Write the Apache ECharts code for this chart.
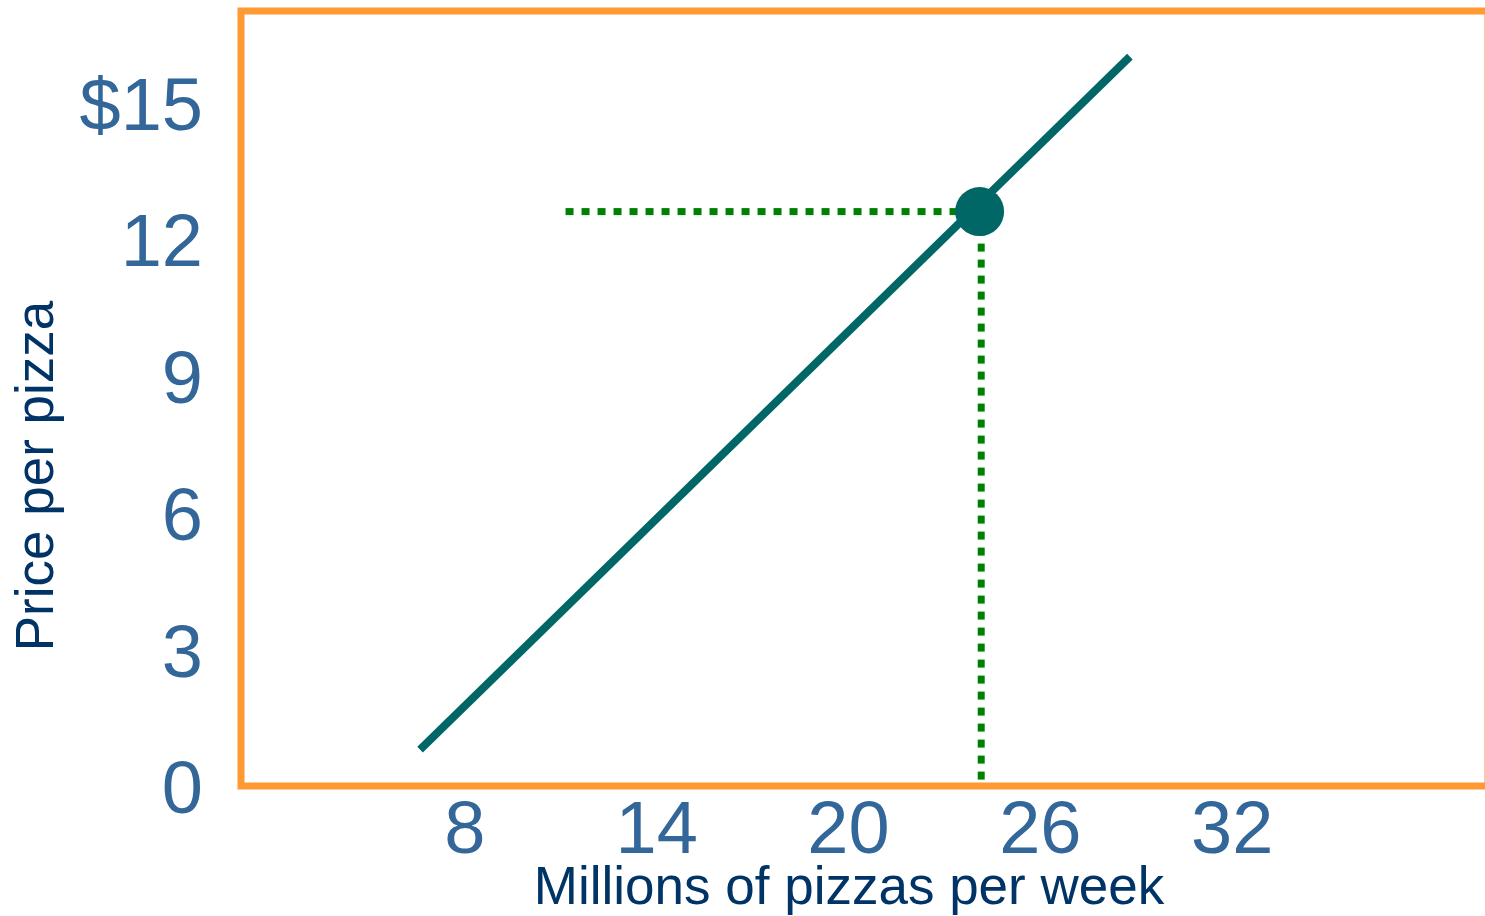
<!DOCTYPE html>
<html>
<head>
<meta charset="utf-8">
<script src="https://cdn.jsdelivr.net/npm/echarts@6/dist/echarts.min.js"></script>
<style>
  html, body { margin: 0; padding: 0; background: #ffffff; }
  #chart { width: 1485px; height: 916px; }
</style>
</head>
<body>
<div id="chart"></div>
<script>
// Supply curve end points (quantity in millions, price in dollars)
const supplyQuantity = [6.6, 28.8];
const supplyPrice = [0.8, 16];

// Market point and the guide lines leading to it
const pointQuantity = 24.1;
const pointPrice = 12.6;
const guideStartQuantity = 11.15;

// Axis ranges and labelled ticks
const xRange = [1, 40];
const yRange = [0, 17];
const xTickValues = [8, 14, 20, 26, 32];
const yTickValues = [0, 3, 6, 9, 12, 15];

const xTitle = 'Millions of pizzas per week';
const yTitle = 'Price per pizza';

const FONT = '"Liberation Sans", Arial, Helvetica, sans-serif';
const TEAL = '#006666';
const GUIDE = '#008000';
const FRAME = '#FF9933';
const TICK_COLOR = '#336699';
const TITLE_COLOR = '#003366';

const supplyData = supplyQuantity.map((q, i) => [q, supplyPrice[i]]);

const chart = echarts.init(document.getElementById('chart'), null, { renderer: 'canvas' });

chart.setOption({
  animation: false,
  backgroundColor: '#ffffff',
  grid: {
    left: 241,
    top: 11,
    width: 1247,
    height: 775,
    outerBoundsMode: 'none',
    containLabel: false,
    show: true,
    borderColor: FRAME,
    borderWidth: 7,
    backgroundColor: 'transparent'
  },
  xAxis: {
    type: 'value',
    min: xRange[0],
    max: xRange[1],
    axisLine: { show: false },
    axisTick: { show: false },
    splitLine: { show: false },
    axisLabel: {
      customValues: xTickValues,
      margin: 10,
      fontSize: 74,
      fontFamily: FONT,
      color: TICK_COLOR
    }
  },
  yAxis: {
    type: 'value',
    min: yRange[0],
    max: yRange[1],
    axisLine: { show: false },
    axisTick: { show: false },
    splitLine: { show: false },
    axisLabel: {
      customValues: yTickValues,
      margin: 38,
      fontSize: 74,
      fontFamily: FONT,
      color: TICK_COLOR,
      verticalAlign: 'top',
      lineHeight: 14,
      formatter: v => (v === 15 ? '$' + v : String(v))
    }
  },
  graphic: [
    {
      type: 'text',
      x: 849,
      y: 889,
      style: {
        text: xTitle,
        fontSize: 53,
        fontFamily: FONT,
        fill: TITLE_COLOR,
        align: 'center',
        verticalAlign: 'middle'
      }
    },
    {
      type: 'text',
      x: 38,
      y: 476,
      rotation: Math.PI / 2,
      style: {
        text: yTitle,
        fontSize: 53,
        fontFamily: FONT,
        fill: TITLE_COLOR,
        align: 'center',
        verticalAlign: 'middle'
      }
    }
  ],
  series: [
    {
      type: 'line',
      data: [[guideStartQuantity, pointPrice], [pointQuantity, pointPrice]],
      symbol: 'none',
      silent: true,
      lineStyle: { color: GUIDE, width: 7, type: [8, 8], cap: 'butt' },
      z: 2
    },
    {
      type: 'line',
      data: [[pointQuantity + 0.05, pointPrice], [pointQuantity + 0.05, 0]],
      symbol: 'none',
      silent: true,
      lineStyle: { color: GUIDE, width: 7, type: [8, 8], cap: 'butt' },
      z: 2
    },
    {
      type: 'line',
      data: supplyData,
      symbol: 'none',
      silent: true,
      lineStyle: { color: TEAL, width: 8, cap: 'butt' },
      z: 3
    },
    {
      type: 'scatter',
      data: [[pointQuantity, pointPrice]],
      symbol: 'circle',
      symbolSize: 49,
      silent: true,
      itemStyle: { color: TEAL, opacity: 1 },
      z: 4
    }
  ]
});
</script>
</body>
</html>
